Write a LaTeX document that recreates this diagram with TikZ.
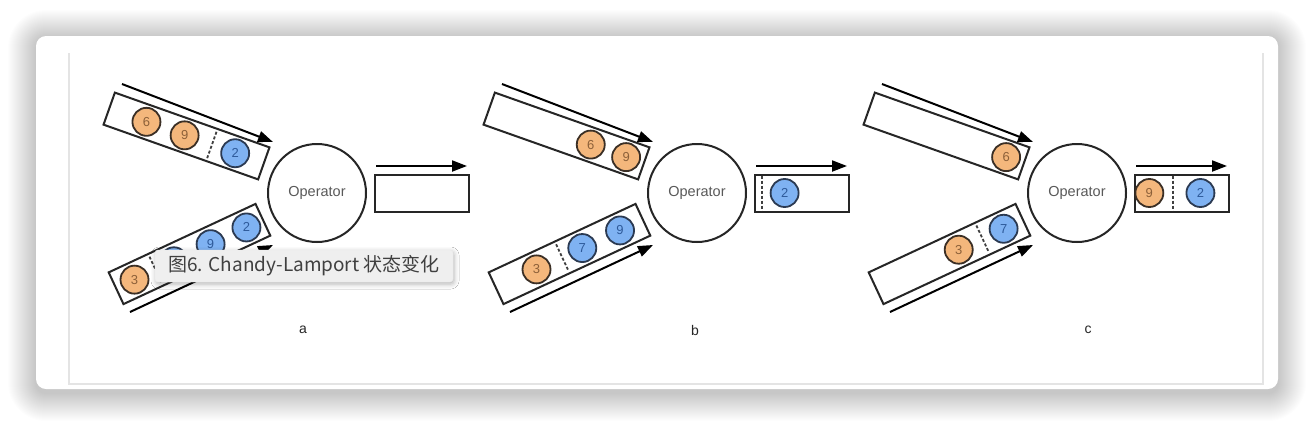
\documentclass[tikz,border=0pt]{standalone}
\usepackage{fontspec}
\setmainfont{Liberation Sans}
\newfontfamily\cjk{Noto Sans CJK SC}
\usetikzlibrary{arrows.meta,calc,shadows.blur}

\definecolor{ballorange}{HTML}{F4B77C}
\definecolor{orangeline}{HTML}{3B2F25}
\definecolor{orangetext}{HTML}{8C6039}
\definecolor{ballblue}{HTML}{7FB2F2}
\definecolor{blueline}{HTML}{2B3A52}
\definecolor{bluetext}{HTML}{2E5A9A}
\definecolor{framegray}{HTML}{E4E4E4}
\definecolor{tipgray}{HTML}{EFEFEF}

\tikzset{
    wall/.style={draw=black!85, line width=2pt},
    chan/.style={wall, rectangle, inner sep=0pt},
    flow/.style={line width=2pt, -{Triangle[length=15pt,width=11pt]}},
    operator/.style={wall, circle, minimum size=98pt, inner sep=0pt, text=black!65, font=\fontsize{14.5}{15}\selectfont},
    oball/.style={circle, draw=orangeline, fill=ballorange, line width=1.8pt, minimum size=28pt, inner sep=0pt, text=orangetext, font=\fontsize{13}{13}\selectfont},
    bball/.style={oball, draw=blueline, fill=ballblue, text=bluetext},
    divider/.style={line width=1.8pt, draw=black!75, dash pattern=on 3pt off 2pt, shorten >=4pt, shorten <=4pt},
    panellabel/.style={text=black!85, font=\fontsize{14}{14}\selectfont},
    tooltip/.style={fill=tipgray, draw=black!8, rounded corners=3pt, minimum width=298pt, minimum height=32pt, inner sep=0pt, text=black!75, font=\cjk\fontsize{19}{19}\selectfont, blur shadow={shadow xshift=1pt, shadow yshift=-2pt, shadow blur radius=5pt, shadow opacity=30}}
}

\begin{document}
\begin{tikzpicture}[x=1pt,y=-1pt]
    \useasboundingbox (0,0) rectangle (1314,426);
    \fill[white] (0,0) rectangle (1314,426);
    \foreach \i in {1,...,28}
        \fill[black, opacity=0.007, rounded corners=10pt+\i pt] (36-\i,38-\i) rectangle (1278+\i,393+\i);
    \fill[white, rounded corners=10pt] (36,36) rectangle (1278,389);
    \draw[framegray, line width=1.5pt] (69,53) -- (69,384) -- (1263,384) -- (1263,53);

    \foreach \dx/\lbl/\lx in {0/a/303,380/b/315,760/c/328}{
        \begin{scope}[xshift=\dx pt]
            \node[operator] (op\lbl) at (317,193) {Operator};
            \node[chan, rotate=-19.5, minimum width=164pt, minimum height=34pt] (in1\lbl) at (186.5,136) {};
            \node[chan, rotate=25, minimum width=162pt, minimum height=35pt] (in2\lbl) at (189.5,254) {};
            \node[chan, minimum width=94pt, minimum height=37pt] (out\lbl) at (421.5,193) {};
            \coordinate (s1\lbl) at (122,84);
            \coordinate (e1\lbl) at (273,142);
            \coordinate (s2\lbl) at (130,312);
            \coordinate (e2\lbl) at (273,245);
            \coordinate (s3\lbl) at (376,166);
            \coordinate (e3\lbl) at (467,166);
            \draw[flow] (s1\lbl) -- (e1\lbl);
            \draw[flow] (s2\lbl) -- (e2\lbl);
            \draw[flow] (s3\lbl) -- (e3\lbl);
            \node[panellabel] (lab\lbl) at (\lx,330) {\lbl};
        \end{scope}
    }

    % a
    \node[oball] (a6) at ($(in1a.west)!.244!(in1a.east)$) {6};
    \node[oball] (a9) at ($(in1a.west)!.488!(in1a.east)$) {9};
    \draw[divider] ($(in1a.north west)!.662!(in1a.north east)$) -- ($(in1a.south west)!.662!(in1a.south east)$);
    \node[bball] (a2) at ($(in1a.west)!.811!(in1a.east)$) {2};
    \node[oball] (a3) at ($(in2a.west)!.13!(in2a.east)$) {3};
    \draw[divider] ($(in2a.north west)!.272!(in2a.north east)$) -- ($(in2a.south west)!.272!(in2a.south east)$);
    \node[bball] (a7) at ($(in2a.west)!.395!(in2a.east)$) {7};
    \node[bball] (a9b) at ($(in2a.west)!.642!(in2a.east)$) {9};
    \node[bball] (a2b) at ($(in2a.west)!.883!(in2a.east)$) {2};

    % b
    \node[oball] (b6) at ($(in1b.west)!.655!(in1b.east)$) {6};
    \node[oball] (b9) at ($(in1b.west)!.881!(in1b.east)$) {9};
    \node[oball] (b3) at ($(in2b.west)!.278!(in2b.east)$) {3};
    \draw[divider] ($(in2b.north west)!.451!(in2b.north east)$) -- ($(in2b.south west)!.451!(in2b.south east)$);
    \node[bball] (b7) at ($(in2b.west)!.586!(in2b.east)$) {7};
    \node[bball] (b9b) at ($(in2b.west)!.84!(in2b.east)$) {9};
    \draw[divider, shorten >=2pt, shorten <=2pt] ($(outb.north west)!.09!(outb.north east)$) -- ($(outb.south west)!.09!(outb.south east)$);
    \node[bball] (b2) at ($(outb.west)!.324!(outb.east)$) {2};

    % c
    \node[oball] (c6) at ($(in1c.west)!.881!(in1c.east)$) {6};
    \node[oball] (c3) at ($(in2c.west)!.562!(in2c.east)$) {3};
    \draw[divider] ($(in2c.north west)!.722!(in2c.north east)$) -- ($(in2c.south west)!.722!(in2c.south east)$);
    \node[bball] (c7) at ($(in2c.west)!.864!(in2c.east)$) {7};
    \node[oball] (c9) at ($(outc.west)!.165!(outc.east)$) {9};
    \draw[divider, shorten >=2pt, shorten <=2pt] ($(outc.north west)!.41!(outc.north east)$) -- ($(outc.south west)!.41!(outc.south east)$);
    \node[bball] (c2) at ($(outc.west)!.697!(outc.east)$) {2};

    \node[tooltip] (tip) at (304,266) {图6. Chandy-Lamport 状态变化};
\end{tikzpicture}
\end{document}
